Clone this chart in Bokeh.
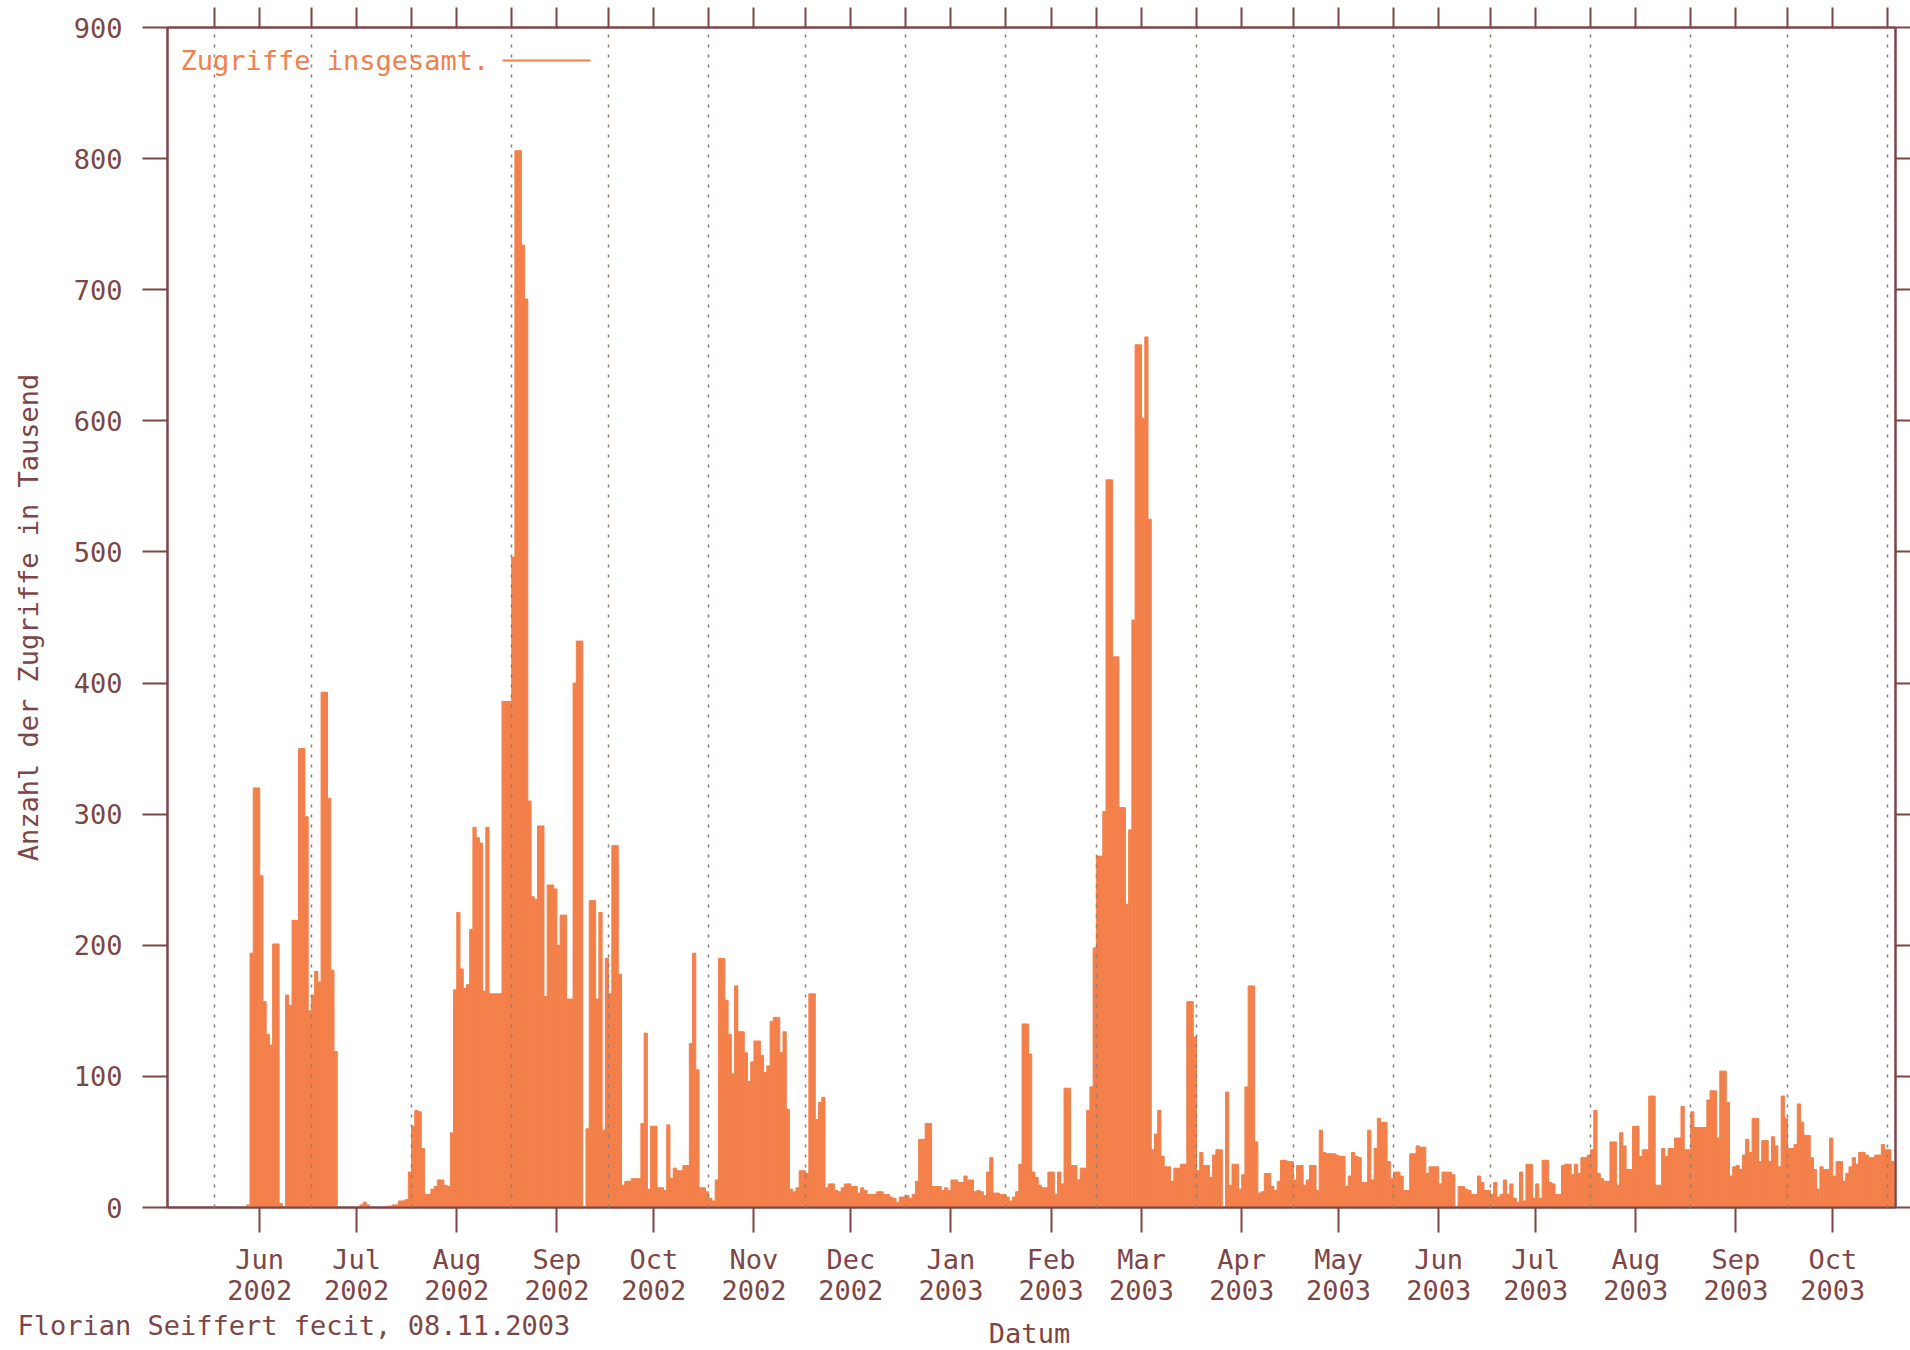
import pandas as pd
from bokeh.plotting import figure
from bokeh.layouts import column
from bokeh.models import (ColumnDataSource, Range1d, FixedTicker, LinearAxis,
                          Label, BoxAnnotation)
from bokeh.embed import file_html
from bokeh.resources import INLINE

# ---------------- data (daily accesses, thousands) ----------------
first_day = "2002-05-18"
may02 = [0, 0, 0, 0, 0, 0, 0, 0, 0, 0, 0, 0, 0, 0]
jun02 = [0, 0, 0, 0, 0, 0, 0, 0, 0, 0, 2, 194, 320, 320, 253, 157, 132, 124, 201, 201,
         3, 0, 162, 154, 219, 219, 350, 350, 298, 150]
jul02 = [162, 180, 172, 393, 393, 312, 181, 119, 0, 0, 0, 0, 0, 0, 0, 2, 4, 2, 0, 0,
         0, 0, 0, 1, 1, 2, 2, 5, 5, 6, 27]
aug02 = [62, 74, 73, 45, 10, 10, 14, 16, 21, 21, 17, 16, 57, 166, 225, 182, 167, 170, 212, 290,
         282, 278, 165, 290, 163, 163, 163, 163, 386, 386, 386]
sep02 = [496, 806, 806, 734, 693, 310, 237, 235, 291, 291, 161, 246, 246, 243, 200, 223, 223, 159, 159, 400,
         432, 432, 0, 60, 234, 234, 159, 225, 59, 190]
oct02 = [163, 276, 276, 178, 17, 20, 20, 22, 22, 22, 64, 133, 14, 62, 62, 15, 15, 13, 63, 22,
         30, 28, 28, 32, 32, 125, 194, 105, 15, 15, 12]
nov02 = [7, 5, 21, 190, 190, 158, 132, 102, 169, 134, 134, 118, 96, 111, 127, 127, 116, 103, 108, 142,
         145, 145, 118, 134, 75, 14, 12, 15, 28, 28]
dec02 = [26, 163, 163, 67, 80, 84, 15, 18, 18, 13, 12, 15, 18, 18, 16, 16, 11, 15, 13, 10,
         10, 10, 12, 12, 10, 10, 8, 7, 4, 8, 8]
jan03 = [9, 7, 10, 20, 52, 52, 64, 64, 16, 16, 16, 13, 15, 13, 21, 21, 19, 19, 24, 21,
         21, 12, 13, 12, 9, 27, 38, 11, 11, 10, 10]
feb03 = [8, 5, 8, 12, 33, 140, 140, 117, 27, 23, 17, 15, 15, 27, 27, 10, 27, 18, 91, 91,
         32, 32, 21, 30, 30, 74, 92, 198]
mar03 = [268, 268, 302, 555, 555, 420, 420, 305, 305, 231, 288, 448, 658, 658, 602, 664, 525, 44, 56, 74,
         39, 31, 31, 20, 30, 30, 33, 33, 157, 157, 130]
apr03 = [28, 42, 32, 32, 23, 40, 44, 44, 0, 88, 17, 33, 33, 14, 25, 92, 169, 169, 50, 11,
         12, 26, 26, 16, 13, 20, 36, 36, 35, 35]
may03 = [21, 32, 32, 17, 21, 32, 32, 13, 59, 42, 41, 41, 41, 40, 39, 39, 16, 24, 42, 39,
         38, 19, 19, 59, 21, 45, 68, 65, 65, 35, 22]
jun03 = [27, 27, 24, 13, 13, 41, 41, 47, 46, 46, 26, 31, 31, 31, 18, 27, 27, 27, 25, 0,
         16, 16, 14, 13, 10, 10, 24, 19, 13, 13]
jul03 = [10, 19, 8, 10, 21, 10, 18, 7, 4, 27, 5, 33, 33, 7, 18, 7, 36, 36, 19, 18,
         10, 10, 32, 33, 33, 25, 33, 26, 38, 38, 40]
aug03 = [44, 74, 26, 22, 20, 20, 50, 50, 17, 57, 47, 29, 29, 62, 62, 39, 44, 44, 85, 85,
         17, 17, 45, 39, 45, 45, 53, 53, 77, 44, 44]
sep03 = [73, 61, 61, 61, 61, 82, 89, 89, 53, 104, 104, 80, 24, 31, 32, 29, 40, 52, 42, 68,
         68, 35, 51, 51, 35, 54, 47, 31, 85, 68]
oct03 = [45, 45, 48, 79, 65, 55, 55, 38, 29, 14, 31, 29, 29, 53, 24, 35, 35, 20, 26, 31,
         38, 33, 42, 42, 40, 38, 38, 40, 40, 48, 44]
nov03 = [44, 35, 35]

tick_labels = ["Jun\n2002", "Jul\n2002", "Aug\n2002", "Sep\n2002", "Oct\n2002", "Nov\n2002",
               "Dec\n2002", "Jan\n2003", "Feb\n2003", "Mar\n2003", "Apr\n2003", "May\n2003",
               "Jun\n2003", "Jul\n2003", "Aug\n2003", "Sep\n2003", "Oct\n2003"]
y_ticks = [0, 100, 200, 300, 400, 500, 600, 700, 800, 900]

values = (may02 + jun02 + jul02 + aug02 + sep02 + oct02 + nov02 + dec02 + jan03 + feb03 +
          mar03 + apr03 + may03 + jun03 + jul03 + aug03 + sep03 + oct03 + nov03)

# ---------------- styling ----------------
ORANGE = "#F3804A"
MAROON = "#7e4545"
GRIDC = "#8c7b73"
FONT = "DejaVu Sans Mono"
FS = "27px"
DAY_MS = 86400000

days = pd.date_range(first_day, periods=len(values), freq="D")
centers = days + pd.Timedelta(hours=12)
src = ColumnDataSource(dict(x=centers, top=values))

def ms(ts):
    return int(pd.Timestamp(ts).value // 10**6)

month_starts = pd.date_range("2002-06-01", "2003-11-01", freq="MS")
grid_ms = [ms(d) for d in month_starts]
label_ms = [ms(d + pd.Timedelta(days=14)) for d in month_starts[:-1]]
top_ms = sorted(grid_ms + label_ms)

p = figure(width=1910, height=1310, x_axis_type="datetime",
           x_range=Range1d(ms("2002-05-17 10:48"), ms("2003-11-03 09:36")),
           y_range=Range1d(0, 900),
           output_backend="svg", toolbar_location=None,
           min_border_left=167, min_border_right=15, min_border_top=27, min_border_bottom=103)
p.background_fill_color = "white"
p.border_fill_color = "white"
p.outline_line_color = MAROON
p.outline_line_width = 2

p.vbar(x="x", top="top", bottom=0, width=DAY_MS, source=src,
       fill_color=ORANGE, line_color=ORANGE, line_width=1)

# grid: dotted month starts, above the bars
p.ygrid.visible = False
p.xgrid.ticker = FixedTicker(ticks=grid_ms)
p.xgrid.grid_line_color = GRIDC
p.xgrid.grid_line_dash = "3 7"
p.xgrid.grid_line_width = 1.5
p.xgrid.level = "overlay"

def style_axis(ax):
    ax.axis_line_color = MAROON
    ax.axis_line_width = 2
    ax.major_tick_line_color = MAROON
    ax.major_tick_line_width = 2
    ax.minor_tick_line_color = None
    ax.major_tick_in = 0
    ax.major_label_text_font = FONT
    ax.major_label_text_font_size = FS
    ax.major_label_text_color = MAROON

xa = p.xaxis[0]
style_axis(xa)
xa.ticker = FixedTicker(ticks=label_ms)
xa.major_label_overrides = {t: lab for t, lab in zip(label_ms, tick_labels)}
xa.major_tick_out = 25
xa.major_label_standoff = 11
xa.major_label_text_line_height = 1.0

ya = p.yaxis[0]
style_axis(ya)
ya.ticker = FixedTicker(ticks=y_ticks)
ya.major_tick_out = 25
ya.major_label_standoff = 20
ya.axis_label = "Anzahl der Zugriffe in Tausend"
ya.axis_label_text_font = FONT
ya.axis_label_text_font_size = FS
ya.axis_label_text_font_style = "normal"
ya.axis_label_text_color = MAROON
ya.axis_label_standoff = 27

# mirror ticks without labels (right and top)
ra = LinearAxis(ticker=FixedTicker(ticks=y_ticks))
style_axis(ra)
ra.major_tick_out = 15
ra.major_label_standoff = 0
ra.major_label_text_font_size = "1px"
ra.major_label_text_color = None
p.add_layout(ra, "right")

ta = LinearAxis(ticker=FixedTicker(ticks=top_ms))
style_axis(ta)
ta.major_tick_out = 20
ta.major_label_standoff = 0
ta.major_label_text_font_size = "1px"
ta.major_label_text_color = None
p.add_layout(ta, "above")

# legend (text then line sample)
p.add_layout(Label(x=13, y=1147, x_units="screen", y_units="screen",
                   text="Zugriffe insgesamt.", text_font=FONT, text_font_size=FS,
                   text_color=ORANGE, text_baseline="middle", text_align="left"))
p.add_layout(BoxAnnotation(left=335, right=423, bottom=1146, top=1148,
                           left_units="screen", right_units="screen",
                           bottom_units="screen", top_units="screen",
                           fill_color=ORANGE, fill_alpha=1, line_color=None))

# bottom strip: footer and x-axis title
foot = figure(width=1910, height=40, x_range=Range1d(0, 1), y_range=Range1d(0, 1),
              output_backend="svg", toolbar_location=None,
              x_axis_location=None, y_axis_location=None,
              min_border_left=0, min_border_right=0, min_border_top=0, min_border_bottom=0)
frame_shift = 0
if "frame_align" in foot.properties():
    foot.frame_align = False
    p.frame_align = False
else:
    frame_shift = 167
foot.grid.visible = False
foot.outline_line_color = None
foot.add_layout(Label(x=17 - frame_shift, y=25, x_units="screen", y_units="screen",
                      text="Florian Seiffert fecit, 08.11.2003", text_font=FONT,
                      text_font_size=FS, text_color=MAROON, text_baseline="middle",
                      text_align="left"))
foot.add_layout(Label(x=1029 - frame_shift, y=17, x_units="screen", y_units="screen",
                      text="Datum", text_font=FONT, text_font_size=FS,
                      text_color=MAROON, text_baseline="middle", text_align="center"))

layout = column(p, foot, spacing=0)
open("out.html", "w").write(file_html(layout, INLINE))
